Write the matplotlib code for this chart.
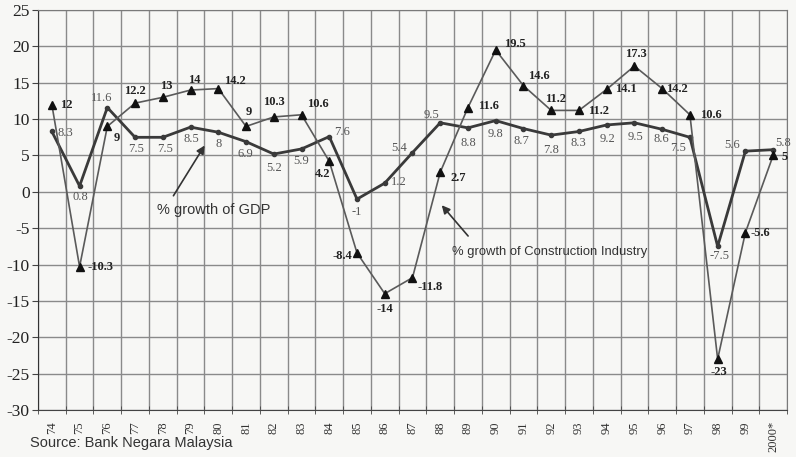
import matplotlib.pyplot as plt
import numpy as np

plt.rcParams['axes.unicode_minus'] = False

# Data
years = ['74', '75', '76', '77', '78', '79', '80', '81', '82', '83', '84', '85', '86',
         '87', '88', '89', '90', '91', '92', '93', '94', '95', '96', '97', '98', '99', '2000*']
gdp = [8.3, 0.8, 11.6, 7.5, 7.5, 8.9, 8.2, 6.9, 5.2, 5.9, 7.6, -1, 1.2,
       5.4, 9.5, 8.8, 9.8, 8.7, 7.8, 8.3, 9.2, 9.5, 8.6, 7.5, -7.5, 5.6, 5.8]
gdp_labels = ['8.3', '0.8', '11.6', '7.5', '7.5', '8.5', '8', '6.9', '5.2', '5.9', '7.6', '-1', '1.2',
              '5.4', '9.5', '8.8', '9.8', '8.7', '7.8', '8.3', '9.2', '9.5', '8.6', '7.5', '-7.5', '5.6', '5.8']
cons = [12, -10.3, 9, 12.2, 13, 14, 14.2, 9, 10.3, 10.6, 4.2, -8.4, -14,
        -11.8, 2.7, 11.6, 19.5, 14.6, 11.2, 11.2, 14.1, 17.3, 14.2, 10.6, -23, -5.6, 5]
cons_labels = ['12', '-10.3', '9', '12.2', '13', '14', '14.2', '9', '10.3', '10.6', '4.2', '-8.4', '-14',
               '-11.8', '2.7', '11.6', '19.5', '14.6', '11.2', '11.2', '14.1', '17.3', '14.2', '10.6', '-23', '-5.6', '5']

# label offsets in pixels (dx, dy, ha)
cons_off = [(8, 0, 'left'), (8, 0, 'left'), (6, -12, 'left'), (0, 12, 'center'), (3, 11, 'center'),
            (4, 10, 'center'), (6, 8, 'left'), (3, 14, 'center'), (0, 15, 'center'), (6, 11, 'left'),
            (-7, -13, 'center'), (-5, -3, 'right'), (0, -15, 'center'), (5, -9, 'left'),
            (10, -6, 'left'), (10, 2, 'left'), (8, 6, 'left'), (5, 10, 'left'), (4, 11, 'center'),
            (9, -1, 'left'), (8, 0, 'left'), (1, 12, 'center'), (4, 0, 'left'), (10, 0, 'left'),
            (1, -13, 'center'), (5, 0, 'left'), (8, -2, 'left')]
gdp_off = [(6, -2, 'left'), (1, -11, 'center'), (-6, 10, 'center'), (1, -12, 'center'), (2, -12, 'center'),
           (1, -12, 'center'), (0, -12, 'center'), (-1, -12, 'center'), (0, -14, 'center'), (0, -12, 'center'),
           (13, 5, 'center'), (0, -13, 'center'), (6, 1, 'left'), (-5, 5, 'right'), (-9, 8, 'center'),
           (0, -15, 'center'), (0, -13, 'center'), (-2, -12, 'center'), (0, -15, 'center'), (-1, -12, 'center'),
           (1, -14, 'center'), (1, -14, 'center'), (-1, -10, 'center'), (-12, -11, 'center'),
           (2, -10, 'center'), (-13, 6, 'center'), (10, 7, 'center')]

x = np.arange(len(years))

fig = plt.figure(figsize=(7.96, 4.57), dpi=100)
fig.patch.set_facecolor('#f7f7f5')
ax = fig.add_axes([0.0477, 0.1028, 0.9410, 0.8752])
ax.set_facecolor('#f7f7f5')

ax.plot(x, gdp, color='#3a3a3a', lw=2.0, marker='o', ms=3, zorder=4)
ax.plot(x, cons, color='#5a5a5a', lw=1.2, marker='^', ms=6, mfc='#111111', mec='#111111', zorder=5)

for i in range(len(x)):
    dx, dy, ha = cons_off[i]
    ax.annotate(cons_labels[i], (x[i], cons[i]), xytext=(dx, dy), textcoords='offset pixels',
                ha=ha, va='center', fontsize=9, fontweight='bold', family='Liberation Serif',
                color='#222222', zorder=6)
    dx, dy, ha = gdp_off[i]
    ax.annotate(gdp_labels[i], (x[i], gdp[i]), xytext=(dx, dy), textcoords='offset pixels',
                ha=ha, va='center', fontsize=9, family='Liberation Serif', color='#555555', zorder=6)

ax.set_xlim(-0.5, len(years) - 0.5)
ax.set_ylim(-30, 25)
ax.set_yticks(np.arange(-30, 26, 5))
ax.set_xticks(x)
ax.set_xticklabels(years, rotation=90, family='Liberation Serif', fontsize=9, color='#333333')
ax.set_xticks(np.arange(-0.5, len(years), 1), minor=True)
ax.tick_params(axis='x', which='major', length=0, pad=8)
ax.tick_params(axis='x', which='minor', length=6, direction='inout', color='#444444')
ax.tick_params(axis='y', length=4, color='#444444', labelsize=12.5, pad=2)
for t in ax.get_yticklabels():
    t.set_family('Liberation Serif')
    t.set_color('#222222')
ax.grid(True, which='minor', axis='x', color='#8a8a8a', lw=1.0)
ax.grid(True, which='major', axis='y', color='#8a8a8a', lw=1.0)
for s in ax.spines.values():
    s.set_color('#7a7a7a')
ax.spines['left'].set_color('#333333')
ax.spines['bottom'].set_color('#444444')

# annotations with arrows
ax.annotate('', xy=(5.56, 6.7), xytext=(4.33, -0.86),
            arrowprops=dict(arrowstyle='-|>', color='#333333', lw=1.2, mutation_scale=12))
ax.text(3.79, -2.5, '% growth of GDP', family='Liberation Sans', fontsize=10.5,
        color='#333333', va='center', ha='left')
ax.annotate('', xy=(13.99, -1.55), xytext=(15.07, -6.36),
            arrowprops=dict(arrowstyle='-|>', color='#333333', lw=1.2, mutation_scale=12))
ax.text(14.42, -8.3, '% growth of Construction Industry', family='Liberation Sans', fontsize=9.4,
        color='#333333', va='center', ha='left')

fig.text(0.038, 0.031, 'Source: Bank Negara Malaysia', family='Liberation Sans', fontsize=10.5,
         color='#333333', va='center', ha='left')

fig.savefig('out.png', dpi=100, facecolor=fig.get_facecolor())
